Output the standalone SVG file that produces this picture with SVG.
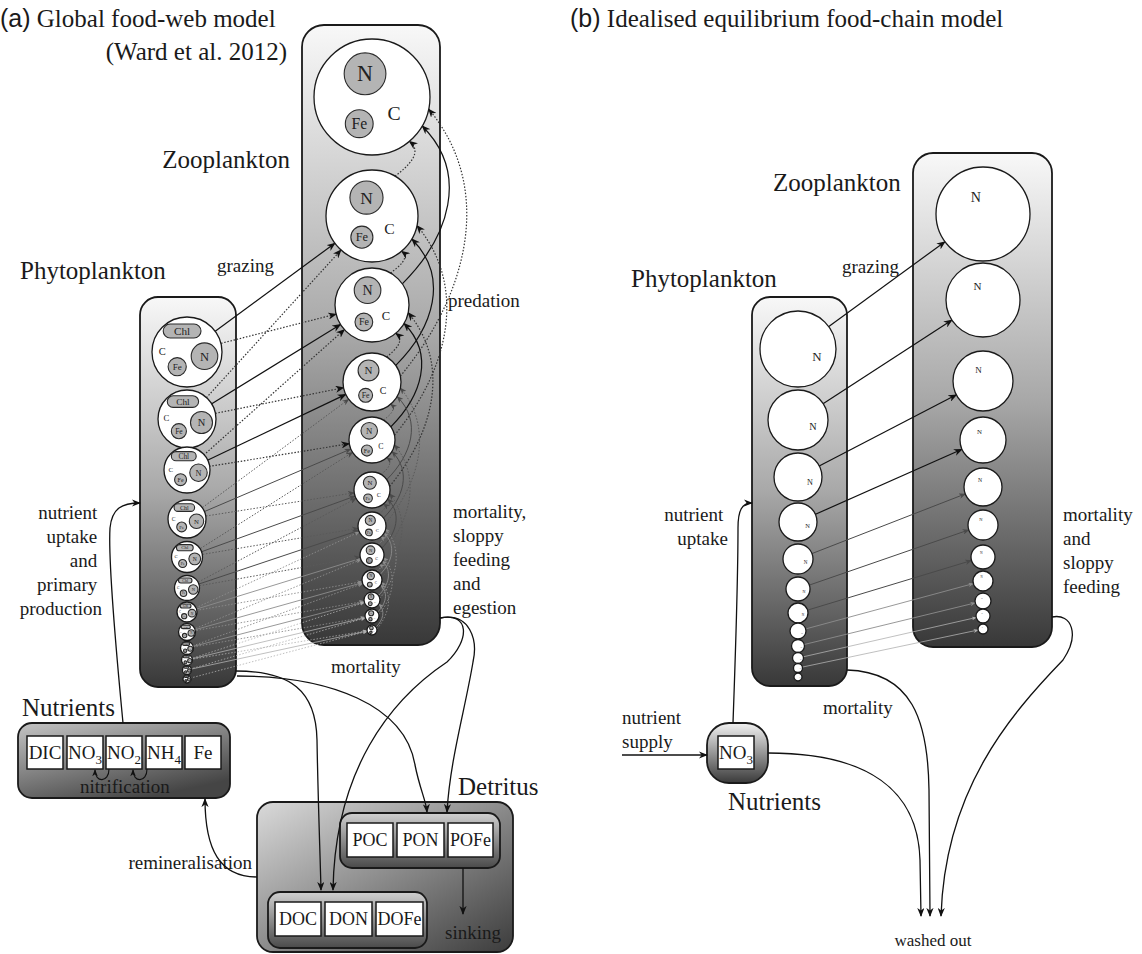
<svg xmlns="http://www.w3.org/2000/svg" width="1142" height="954" viewBox="0 0 1142 954">
<style>
  .t { font-family: "Liberation Serif", "Times New Roman", serif; fill: #1a1a1a; }
  .sans { font-family: "Liberation Sans", Arial, sans-serif; }
  .big { font-size: 25px; }
  .mid { font-size: 19px; }
  .sm { font-size: 17px; }
  .end { text-anchor: end; }
  .ctr { text-anchor: middle; }
  .box { stroke: #1a1a1a; stroke-width: 1.8; }
  .cellbox { fill: #fff; stroke: #1a1a1a; stroke-width: 1.5; }
  .cell { fill: #fff; stroke: #1a1a1a; stroke-width: 1.3; vector-effect: non-scaling-stroke; }
  .inner { fill: #b4b4b4; stroke: #2a2a2a; stroke-width: 1.1; vector-effect: non-scaling-stroke; }
  .it { font-family: "Liberation Serif", "Times New Roman", serif; text-anchor: middle; fill: #222; }
  .c { fill: none; }
  .k1 { stroke: #111; stroke-width: 1.2; marker-end: url(#ah1); }
  .k2 { stroke: #4a4a4a; stroke-width: 1; marker-end: url(#ah2); }
  .k3 { stroke: #8c8c8c; stroke-width: 0.9; marker-end: url(#ah3); }
  .k4 { stroke: #b0b0b0; stroke-width: 0.8; marker-end: url(#ah4); }
  .dot { stroke-dasharray: 1.5 1.7; }
  .k1.dot { stroke: #333; }
  .k2.dot { stroke: #5a5a5a; }
  .flow { fill: none; stroke: #111; stroke-width: 1.3; marker-end: url(#ah1); }
  .loop { fill: none; stroke: #111; stroke-width: 1.1; marker-end: url(#ahS); }
</style>
<defs>
  <linearGradient id="gCol" x1="0" y1="0" x2="0" y2="1">
    <stop offset="0" stop-color="#f8f8f8"/>
    <stop offset="0.5" stop-color="#a8a8a8"/>
    <stop offset="1" stop-color="#383838"/>
  </linearGradient>
  <linearGradient id="gNut" x1="0" y1="0" x2="0.6" y2="1">
    <stop offset="0" stop-color="#c4c4c4"/>
    <stop offset="1" stop-color="#454545"/>
  </linearGradient>
  <linearGradient id="gDet" x1="0" y1="0" x2="1" y2="1">
    <stop offset="0" stop-color="#dadada"/>
    <stop offset="1" stop-color="#3c3c3c"/>
  </linearGradient>
  <linearGradient id="gInner" x1="0" y1="0" x2="0" y2="1">
    <stop offset="0" stop-color="#d0d0d0"/>
    <stop offset="1" stop-color="#4a4a4a"/>
  </linearGradient>
  <linearGradient id="gNo3" x1="0" y1="0" x2="0" y2="1">
    <stop offset="0" stop-color="#f2f2f2"/>
    <stop offset="1" stop-color="#3a3a3a"/>
  </linearGradient>

  <marker id="ah1" viewBox="0 0 10 8" refX="9" refY="4" markerWidth="9" markerHeight="7.2" markerUnits="userSpaceOnUse" orient="auto"><path d="M0,0 L10,4 L0,8 L3,4 z" fill="#111"/></marker>
  <marker id="ah2" viewBox="0 0 10 8" refX="9" refY="4" markerWidth="7" markerHeight="5.6" markerUnits="userSpaceOnUse" orient="auto"><path d="M0,0 L10,4 L0,8 L3,4 z" fill="#4a4a4a"/></marker>
  <marker id="ah3" viewBox="0 0 10 8" refX="9" refY="4" markerWidth="5.5" markerHeight="4.4" markerUnits="userSpaceOnUse" orient="auto"><path d="M0,0 L10,4 L0,8 L3,4 z" fill="#8c8c8c"/></marker>
  <marker id="ah4" viewBox="0 0 10 8" refX="9" refY="4" markerWidth="5" markerHeight="4" markerUnits="userSpaceOnUse" orient="auto"><path d="M0,0 L10,4 L0,8 L3,4 z" fill="#b0b0b0"/></marker>
  <marker id="ahS" viewBox="0 0 10 8" refX="9" refY="4" markerWidth="7" markerHeight="6" markerUnits="userSpaceOnUse" orient="auto"><path d="M0,0 L10,4 L0,8 L3,4 z" fill="#111"/></marker>

  <!-- size-class cells, drawn at radius 100 and scaled per class -->
  <g id="phytoCell">
    <circle r="100" class="cell"/>
    <rect x="-68" y="-80" width="108" height="40" rx="20" class="inner"/>
    <text x="-14" y="-49" font-size="32" class="it">Chl</text>
    <circle cx="50" cy="12" r="38" class="inner"/>
    <text x="50" y="25" font-size="36" class="it">N</text>
    <circle cx="-28" cy="42" r="26" class="inner"/>
    <text x="-28" y="51" font-size="26" class="it">Fe</text>
    <text x="-71" y="8" font-size="30" class="it">C</text>
  </g>
  <g id="zooCell">
    <circle r="100" class="cell"/>
    <circle cx="-12" cy="-40" r="36" class="inner"/>
    <text x="-12" y="-27" font-size="38" class="it">N</text>
    <circle cx="-22" cy="46" r="24" class="inner"/>
    <text x="-22" y="55" font-size="27" class="it">Fe</text>
    <text x="38" y="40" font-size="34" class="it">C</text>
  </g>
  <g id="nZoo">
    <circle r="100" class="cell"/>
    <text x="-15" y="-26" font-size="30" class="it">N</text>
  </g>
  <g id="nPhyto">
    <circle r="100" class="cell"/>
    <text x="50" y="32" font-size="34" class="it">N</text>
  </g>
</defs>

<rect width="1142" height="954" fill="#fff"/>

<!-- titles and labels -->
<g id="labels">
  <text x="0" y="27" class="t big"><tspan class="sans">(a)</tspan> Global food-web model</text>
  <text x="287" y="60" class="t big end">(Ward et al. 2012)</text>
  <text x="570" y="27" class="t big"><tspan class="sans">(b)</tspan> Idealised equilibrium food-chain model</text>

  <text x="290" y="168" class="t big end">Zooplankton</text>
  <text x="20" y="279" class="t big">Phytoplankton</text>
  <text x="217" y="272" class="t mid">grazing</text>
  <text x="448" y="307" class="t mid">predation</text>
  <text class="t mid end">
    <tspan x="102" y="519">nutrient</tspan>
    <tspan x="102" y="543">uptake</tspan>
    <tspan x="102" y="567">and</tspan>
    <tspan x="102" y="591">primary</tspan>
    <tspan x="102" y="615">production</tspan>
  </text>
  <text class="t mid">
    <tspan x="453" y="518">mortality,</tspan>
    <tspan x="453" y="542">sloppy</tspan>
    <tspan x="453" y="566">feeding</tspan>
    <tspan x="453" y="590">and</tspan>
    <tspan x="453" y="614">egestion</tspan>
  </text>
  <text x="331" y="673" class="t mid">mortality</text>
  <text x="22" y="716" class="t big">Nutrients</text>
  <text x="252" y="869" class="t mid end">remineralisation</text>
  <text x="458" y="795" class="t big">Detritus</text>

  <text x="773" y="191" class="t big">Zooplankton</text>
  <text x="631" y="287" class="t big">Phytoplankton</text>
  <text x="842" y="273" class="t mid">grazing</text>
  <text class="t mid end">
    <tspan x="728" y="521">nutrient</tspan>
    <tspan x="728" y="545">uptake</tspan>
  </text>
  <text class="t mid">
    <tspan x="1063" y="521">mortality</tspan>
    <tspan x="1063" y="545">and</tspan>
    <tspan x="1063" y="569">sloppy</tspan>
    <tspan x="1063" y="593">feeding</tspan>
  </text>
  <text x="823" y="714" class="t mid">mortality</text>
  <text class="t mid">
    <tspan x="622" y="724">nutrient</tspan>
    <tspan x="622" y="748">supply</tspan>
  </text>
  <text x="728" y="810" class="t big">Nutrients</text>
  <text x="933" y="946" class="t sm ctr">washed out</text>
</g>

<!-- (a) container boxes -->
<g id="zooplankton-a-box"><rect x="302" y="25" width="138" height="620" rx="22" fill="url(#gCol)" class="box"/></g>
<g id="phytoplankton-a-box"><rect x="140" y="297" width="96" height="390" rx="18" fill="url(#gCol)" class="box"/></g>

<g id="nutrients-a">
  <rect x="18" y="723" width="212" height="75" rx="14" fill="url(#gNut)" class="box"/>
  <rect x="27" y="736" width="36" height="33" class="cellbox"/>
  <rect x="67" y="736" width="36" height="33" class="cellbox"/>
  <rect x="106" y="736" width="36" height="33" class="cellbox"/>
  <rect x="146" y="736" width="36" height="33" class="cellbox"/>
  <rect x="185" y="736" width="36" height="33" class="cellbox"/>
  <text x="45" y="759" class="t mid ctr">DIC</text>
  <text x="85" y="759" class="t mid ctr">NO<tspan dy="5" font-size="13">3</tspan></text>
  <text x="124" y="759" class="t mid ctr">NO<tspan dy="5" font-size="13">2</tspan></text>
  <text x="164" y="759" class="t mid ctr">NH<tspan dy="5" font-size="13">4</tspan></text>
  <text x="203" y="759" class="t mid ctr">Fe</text>
  <text x="80" y="793" class="t mid">nitrification</text>
</g>

<g id="detritus">
  <rect x="257" y="802" width="256" height="150" rx="16" fill="url(#gDet)" class="box"/>
  <g id="particulate">
    <rect x="340" y="813" width="160" height="55" rx="12" fill="url(#gInner)" class="box"/>
    <rect x="347" y="823" width="46" height="34" class="cellbox"/>
    <rect x="397" y="823" width="47" height="34" class="cellbox"/>
    <rect x="448" y="823" width="45" height="34" class="cellbox"/>
    <text x="370" y="846" class="t ctr" font-size="18">POC</text>
    <text x="420.5" y="846" class="t ctr" font-size="18">PON</text>
    <text x="470.5" y="846" class="t ctr" font-size="18">POFe</text>
  </g>
  <g id="dissolved">
    <rect x="268" y="892" width="159" height="56" rx="12" fill="url(#gInner)" class="box"/>
    <rect x="275" y="902" width="46" height="34" class="cellbox"/>
    <rect x="325" y="902" width="47" height="34" class="cellbox"/>
    <rect x="376" y="902" width="47" height="34" class="cellbox"/>
    <text x="298" y="925" class="t ctr" font-size="18">DOC</text>
    <text x="348.5" y="925" class="t ctr" font-size="18">DON</text>
    <text x="399.5" y="925" class="t ctr" font-size="18">DOFe</text>
  </g>
  <text x="445" y="939" class="t mid">sinking</text>
</g>

<!-- (b) container boxes -->
<g id="zooplankton-b-box"><rect x="913" y="153" width="139" height="494" rx="20" fill="url(#gCol)" class="box"/></g>
<g id="phytoplankton-b-box"><rect x="752" y="297" width="95" height="389" rx="18" fill="url(#gCol)" class="box"/></g>
<g id="nutrients-b">
  <rect x="707" y="723" width="61" height="60" rx="22" fill="url(#gNo3)" class="box"/>
  <rect x="718" y="736" width="36" height="33" class="cellbox"/>
  <text x="736" y="759" class="t mid ctr">NO<tspan dy="5" font-size="13">3</tspan></text>
</g>

<g id="connectors">
  <!-- (a) grazing: preferred prey (solid) -->
  <path class="c k1" d="M187,352 L334.9,243.2"/>
  <path class="c k1" d="M187,419 L340.5,324.4"/>
  <path class="c k1" d="M187,470 L345.8,394.4"/>
  <path class="c k2" d="M187,519 L350.8,449"/>
  <path class="c k2" d="M187,557 L355.1,496.1"/>
  <path class="c k2" d="M187,588 L358.7,530.5"/>
  <path class="c k3" d="M187,612 L360.5,558.5"/>
  <path class="c k3" d="M187,632 L362.4,582.7"/>
  <path class="c k3" d="M187,648 L364.3,602"/>
  <path class="c k4" d="M187,660 L365.2,617.6"/>
  <path class="c k4" d="M187,670 L367.1,631.1"/>
  <!-- (a) grazing: neighbouring classes (dotted) -->
  <path class="c k1 dot" d="M187,352 L336.1,314.1"/>
  <path class="c k1 dot" d="M187,419 L343.6,387.7"/>
  <path class="c k1 dot" d="M187,470 L349.3,443.7"/>
  <path class="c k2 dot" d="M187,519 L354.2,492.8"/>
  <path class="c k2 dot" d="M187,557 L358.2,528.3"/>
  <path class="c k2 dot" d="M187,588 L360.2,557.1"/>
  <path class="c k3 dot" d="M187,612 L362.1,581.7"/>
  <path class="c k3 dot" d="M187,632 L364.1,601.4"/>
  <path class="c k3 dot" d="M187,648 L365.1,617.2"/>
  <path class="c k4 dot" d="M187,660 L367.1,630.8"/>
  <path class="c k1 dot" d="M187,419 L341,250"/>
  <path class="c k1 dot" d="M187,470 L344.4,329.6"/>
  <path class="c k2 dot" d="M187,519 L348.7,399.3"/>
  <path class="c k2 dot" d="M187,557 L352.6,452.3"/>
  <path class="c k2 dot" d="M187,588 L356.1,498.4"/>
  <path class="c k3 dot" d="M187,612 L359.3,531.9"/>
  <path class="c k3 dot" d="M187,632 L360.9,559.6"/>
  <path class="c k3 dot" d="M187,648 L362.6,583.5"/>
  <path class="c k4 dot" d="M187,660 L364.4,602.5"/>
  <path class="c k4 dot" d="M187,670 L365.3,618"/>
  <path class="c k4 dot" d="M187,679 L367.2,631.3"/>

  <!-- (a) predation: next class up (dotted) -->
  <path class="c k1 dot" d="M395,176.2 C408.9,165.8 423.2,151.8 409.3,141.4"/>
  <path class="c k1 dot" d="M390.5,273 C399.2,266.5 410.3,257.7 401.6,251.2"/>
  <path class="c k1 dot" d="M386.5,356.9 C395.9,349.8 405.2,340.4 395.8,333.3"/>
  <path class="c k2 dot" d="M383.5,420.1 C389.9,415.3 397,409 390.6,404.2"/>
  <path class="c k2 dot" d="M381,474.4 C387.7,469.4 393.5,462.6 386.8,457.6"/>
  <path class="c k2 dot" d="M379,513.9 C383,510.9 387.6,506.8 383.6,503.8"/>
  <path class="c k3 dot" d="M378,544.6 C381.2,542.2 384.2,539.1 381,536.7"/>
  <path class="c k3 dot" d="M377,571.3 C379.8,569.2 382.5,566.3 379.7,564.2"/>
  <!-- (a) predation: preferred prey (solid) -->
  <path class="c k1" d="M402.3,283.8 C449.6,236.5 469.5,173.3 422.2,126"/>
  <path class="c k1" d="M395.8,365.4 C433.7,327.5 449.7,276.9 411.8,239"/>
  <path class="c k1" d="M390.8,426.8 C421.8,395.8 435,354.5 404,323.5"/>
  <path class="c k2" d="M386.7,479.7 C411.7,454.7 422.1,421.5 397.1,396.5"/>
  <path class="c k2" d="M383.5,518 C403.5,498 411.9,471.5 391.9,451.5"/>
  <path class="c k2" d="M381.8,548.1 C396.5,533.4 402.3,513.7 387.6,499"/>
  <path class="c k3" d="M380.2,574.3 C392.6,561.9 396.5,545.4 384.1,533"/>
  <path class="c k3" d="M378.6,595.4 C388.9,585.1 392.7,571.3 382.4,561"/>
  <path class="c k3" d="M377.7,612 C385.8,603.9 388.8,593.1 380.7,585"/>
  <path class="c k3" d="M376.1,627.1 C383,620.2 385.8,610.9 378.9,604"/>
  <!-- (a) predation: three classes apart (dotted) -->
  <path class="c k1 dot" d="M400.4,376 C467.1,296 495.4,189.1 428.7,109.1"/>
  <path class="c k1 dot" d="M394.5,435.2 C446.9,372.3 469.4,288.5 417,225.6"/>
  <path class="c k1 dot" d="M389.6,486.3 C433,434.2 451.6,364.8 408.2,312.7"/>
  <path class="c k2 dot" d="M385.7,523.1 C419.5,482.6 434.2,428.5 400.4,388"/>
  <path class="c k2 dot" d="M383.7,552.5 C410.6,520.2 421.4,477.1 394.5,444.8"/>
  <path class="c k2 dot" d="M381.8,577.9 C402.8,552.6 410.6,519 389.6,493.7"/>
  <path class="c k3 dot" d="M379.8,598.3 C397.2,577.5 403.1,549.7 385.7,528.9"/>
  <path class="c k3 dot" d="M378.8,614.5 C393.1,597.4 398,574.6 383.7,557.5"/>
  <path class="c k3 dot" d="M376.9,629 C388.6,614.9 393.5,596.2 381.8,582.1"/>

  <!-- (a) nutrient, mortality and recycling fluxes -->
  <path class="flow" d="M123,723 C116,650 108,560 110,528 C112,508 122,503 140,503"/>
  <path class="flow" d="M236,671 C290,671 316,690 317,740 C318,800 320,850 321,890"/>
  <path class="flow" d="M237,676 C330,676 405,705 415,765 C420,790 426,800 427,812"/>
  <path class="flow" d="M440,618 C470,612 470,640 447,662 C390,700 335,770 333,890"/>
  <path class="flow" d="M440,618 C470,612 478,640 473,662 C465,710 450,760 447,812"/>
  <path class="flow" d="M257,877 C220,877 205,850 205,799"/>
  <path class="flow" d="M463,868 L463,914"/>
  <path class="loop" d="M109,769 C109,783 95,783 95,770"/>
  <path class="loop" d="M147,769 C147,783 133,783 133,770"/>

  <!-- (b) grazing -->
  <path class="c k1" d="M798,349 L945,241.7"/>
  <path class="c k1" d="M798,420 L952,320.1"/>
  <path class="c k1" d="M798,477 L956.4,394.8"/>
  <path class="c k1" d="M798,522 L962,449.3"/>
  <path class="c k2" d="M798,559 L965.3,493.9"/>
  <path class="c k2" d="M798,589 L968.8,529.9"/>
  <path class="c k2" d="M798,613 L971.5,560.5"/>
  <path class="c k3" d="M798,631 L973.3,583.6"/>
  <path class="c k3" d="M798,646 L975.2,602.9"/>
  <path class="c k4" d="M798,658 L976.2,617.5"/>
  <path class="c k4" d="M798,668 L978.1,630"/>

  <!-- (b) supply, uptake and losses -->
  <path class="flow" d="M622,755 L707,755"/>
  <path class="flow" d="M733,723 C736,640 738,560 738,528 C738,510 742,503 752,503"/>
  <path class="flow" d="M847,670 C912,672 928,720 929,790 L930,916"/>
  <path class="flow" d="M768,753 C868,753 918,790 920,860 L921,916"/>
  <path class="flow" d="M1052,617 C1072,613 1080,635 1063,660 C1010,715 945,790 941,916"/>
</g>

<!-- (a) phytoplankton size classes -->
<g id="phyto-a">
  <g id="pa1"><use href="#phytoCell" transform="translate(187,352) scale(0.35)"/></g>
  <g id="pa2"><use href="#phytoCell" transform="translate(187,419) scale(0.29)"/></g>
  <g id="pa3"><use href="#phytoCell" transform="translate(187,470) scale(0.23)"/></g>
  <g id="pa4"><use href="#phytoCell" transform="translate(187,519) scale(0.19)"/></g>
  <g id="pa5"><use href="#phytoCell" transform="translate(187,557) scale(0.155)"/></g>
  <g id="pa6"><use href="#phytoCell" transform="translate(187,588) scale(0.125)"/></g>
  <g id="pa7"><use href="#phytoCell" transform="translate(187,612) scale(0.10)"/></g>
  <g id="pa8"><use href="#phytoCell" transform="translate(187,632) scale(0.085)"/></g>
  <g id="pa9"><use href="#phytoCell" transform="translate(187,648) scale(0.065)"/></g>
  <g id="pa10"><use href="#phytoCell" transform="translate(187,660) scale(0.055)"/></g>
  <g id="pa11"><use href="#phytoCell" transform="translate(187,670) scale(0.045)"/></g>
  <g id="pa12"><use href="#phytoCell" transform="translate(187,679) scale(0.04)"/></g>
</g>

<!-- (a) zooplankton size classes -->
<g id="zoo-a">
  <g id="za1"><use href="#zooCell" transform="translate(372,97) scale(0.58)"/></g>
  <g id="za2"><use href="#zooCell" transform="translate(372,216) scale(0.46)"/></g>
  <g id="za3"><use href="#zooCell" transform="translate(372,305) scale(0.37)"/></g>
  <g id="za4"><use href="#zooCell" transform="translate(372,382) scale(0.29)"/></g>
  <g id="za5"><use href="#zooCell" transform="translate(372,440) scale(0.23)"/></g>
  <g id="za6"><use href="#zooCell" transform="translate(372,490) scale(0.18)"/></g>
  <g id="za7"><use href="#zooCell" transform="translate(372,526) scale(0.14)"/></g>
  <g id="za8"><use href="#zooCell" transform="translate(372,555) scale(0.12)"/></g>
  <g id="za9"><use href="#zooCell" transform="translate(372,580) scale(0.10)"/></g>
  <g id="za10"><use href="#zooCell" transform="translate(372,600) scale(0.08)"/></g>
  <g id="za11"><use href="#zooCell" transform="translate(372,616) scale(0.07)"/></g>
  <g id="za12"><use href="#zooCell" transform="translate(372,630) scale(0.05)"/></g>
</g>

<!-- (b) phytoplankton size classes -->
<g id="phyto-b">
  <g id="pb1"><use href="#nPhyto" transform="translate(798,349) scale(0.38)"/></g>
  <g id="pb2"><use href="#nPhyto" transform="translate(798,420) scale(0.30)"/></g>
  <g id="pb3"><use href="#nPhyto" transform="translate(798,477) scale(0.24)"/></g>
  <g id="pb4"><use href="#nPhyto" transform="translate(798,522) scale(0.19)"/></g>
  <g id="pb5"><use href="#nPhyto" transform="translate(798,559) scale(0.15)"/></g>
  <g id="pb6"><use href="#nPhyto" transform="translate(798,589) scale(0.12)"/></g>
  <g id="pb7"><use href="#nPhyto" transform="translate(798,613) scale(0.10)"/></g>
  <g id="pb8"><use href="#nPhyto" transform="translate(798,631) scale(0.08)"/></g>
  <g id="pb9"><use href="#nPhyto" transform="translate(798,646) scale(0.065)"/></g>
  <g id="pb10"><use href="#nPhyto" transform="translate(798,658) scale(0.055)"/></g>
  <g id="pb11"><use href="#nPhyto" transform="translate(798,668) scale(0.045)"/></g>
  <g id="pb12"><use href="#nPhyto" transform="translate(798,677) scale(0.04)"/></g>
</g>

<!-- (b) zooplankton size classes -->
<g id="zoo-b">
  <g id="zb1"><use href="#nZoo" transform="translate(983,214) scale(0.47)"/></g>
  <g id="zb2"><use href="#nZoo" transform="translate(983,300) scale(0.37)"/></g>
  <g id="zb3"><use href="#nZoo" transform="translate(983,381) scale(0.30)"/></g>
  <g id="zb4"><use href="#nZoo" transform="translate(983,440) scale(0.23)"/></g>
  <g id="zb5"><use href="#nZoo" transform="translate(983,487) scale(0.19)"/></g>
  <g id="zb6"><use href="#nZoo" transform="translate(983,525) scale(0.15)"/></g>
  <g id="zb7"><use href="#nZoo" transform="translate(983,557) scale(0.12)"/></g>
  <g id="zb8"><use href="#nZoo" transform="translate(983,581) scale(0.10)"/></g>
  <g id="zb9"><use href="#nZoo" transform="translate(983,601) scale(0.08)"/></g>
  <g id="zb10"><use href="#nZoo" transform="translate(983,616) scale(0.07)"/></g>
  <g id="zb11"><use href="#nZoo" transform="translate(983,629) scale(0.05)"/></g>
</g>
</svg>
